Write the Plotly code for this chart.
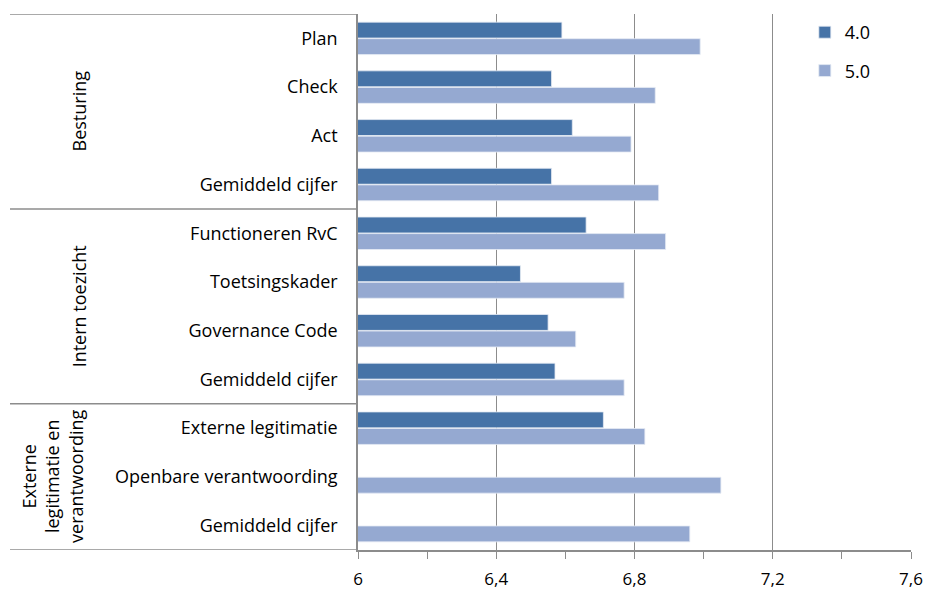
import plotly.graph_objects as go

categories = [
    "Plan", "Check", "Act", "Gemiddeld cijfer",
    "Functioneren RvC", "Toetsingskader", "Governance Code", "Gemiddeld cijfer",
    "Externe legitimatie", "Openbare verantwoording", "Gemiddeld cijfer",
]
groups = ["Besturing", "Intern toezicht", "Externe<br>legitimatie en<br>verantwoording"]
group_sizes = [4, 4, 3]

series_names = ["4.0", "5.0"]
values_40 = [6.59, 6.56, 6.62, 6.56, 6.66, 6.47, 6.55, 6.57, 6.71, None, None]
values_50 = [6.99, 6.86, 6.79, 6.87, 6.89, 6.77, 6.63, 6.77, 6.83, 7.05, 6.96]
colors = ["#4673A7", "#95A9D1"]

font = "Open Sans"
ypos = list(range(len(categories)))

fig = go.Figure()
for name, vals, col in zip(series_names, [values_40, values_50], colors):
    fig.add_trace(go.Bar(
        y=ypos, x=vals, name=name, orientation="h",
        marker=dict(color=col, line=dict(color="#E6EBF4", width=0.8)),
        legendgroup=name,
    ))

fig.update_layout(
    width=930, height=590,
    margin=dict(l=358, r=19, t=14, b=40),
    plot_bgcolor="white", paper_bgcolor="white",
    barmode="group", bargap=0.32, bargroupgap=0.04,
    separators=",.",
    font=dict(family=font, size=18, color="black"),
    legend=dict(x=0.808, xanchor="left", y=1.0, yanchor="top",
                font=dict(size=18), tracegroupgap=12, bgcolor="rgba(0,0,0,0)"),
    showlegend=True,
)

fig.update_xaxes(
    range=[6, 7.6], dtick=0.4, tick0=6,
    showgrid=True, gridcolor="#8C8C8C", gridwidth=1.3,
    showline=True, linecolor="#8C8C8C", linewidth=1.5,
    ticks="outside", ticklen=7, tickcolor="#8C8C8C", tickwidth=1.3,
    minor=dict(dtick=0.2, ticks="outside", ticklen=7, tickcolor="#8C8C8C", tickwidth=1.3, showgrid=False),
    zeroline=False, ticklabelstandoff=6, tickfont=dict(size=17),
    automargin=False,
)
fig.update_yaxes(
    range=[len(categories) - 0.5, -0.5],
    tickvals=ypos, ticktext=categories,
    showgrid=False, zeroline=False,
    showline=True, linecolor="#8C8C8C", linewidth=1.5,
    ticks="", ticklabelstandoff=15, automargin=False,
)

# group separators and labels on the left
left = -348 / 553
label_x = [79, 79, 53]
line_style = dict(color="#8C8C8C", width=1.5)
start = 0
bounds = [-0.5]
for g, n, lx in zip(groups, group_sizes, label_x):
    bounds.append(start + n - 0.5)
    fig.add_annotation(
        x=(lx - 358) / 553, xref="paper", y=start + (n - 1) / 2, yref="y",
        text=g, textangle=-90, showarrow=False, font=dict(size=18),
        xanchor="center", yanchor="middle",
    )
    start += n
for b in bounds:
    fig.add_shape(type="line", xref="paper", yref="y", x0=left, x1=0, y0=b, y1=b,
                  line=line_style)

fig.write_html("out.html", config={"displayModeBar": False},
               post_script="document.body.style.margin='0';")
